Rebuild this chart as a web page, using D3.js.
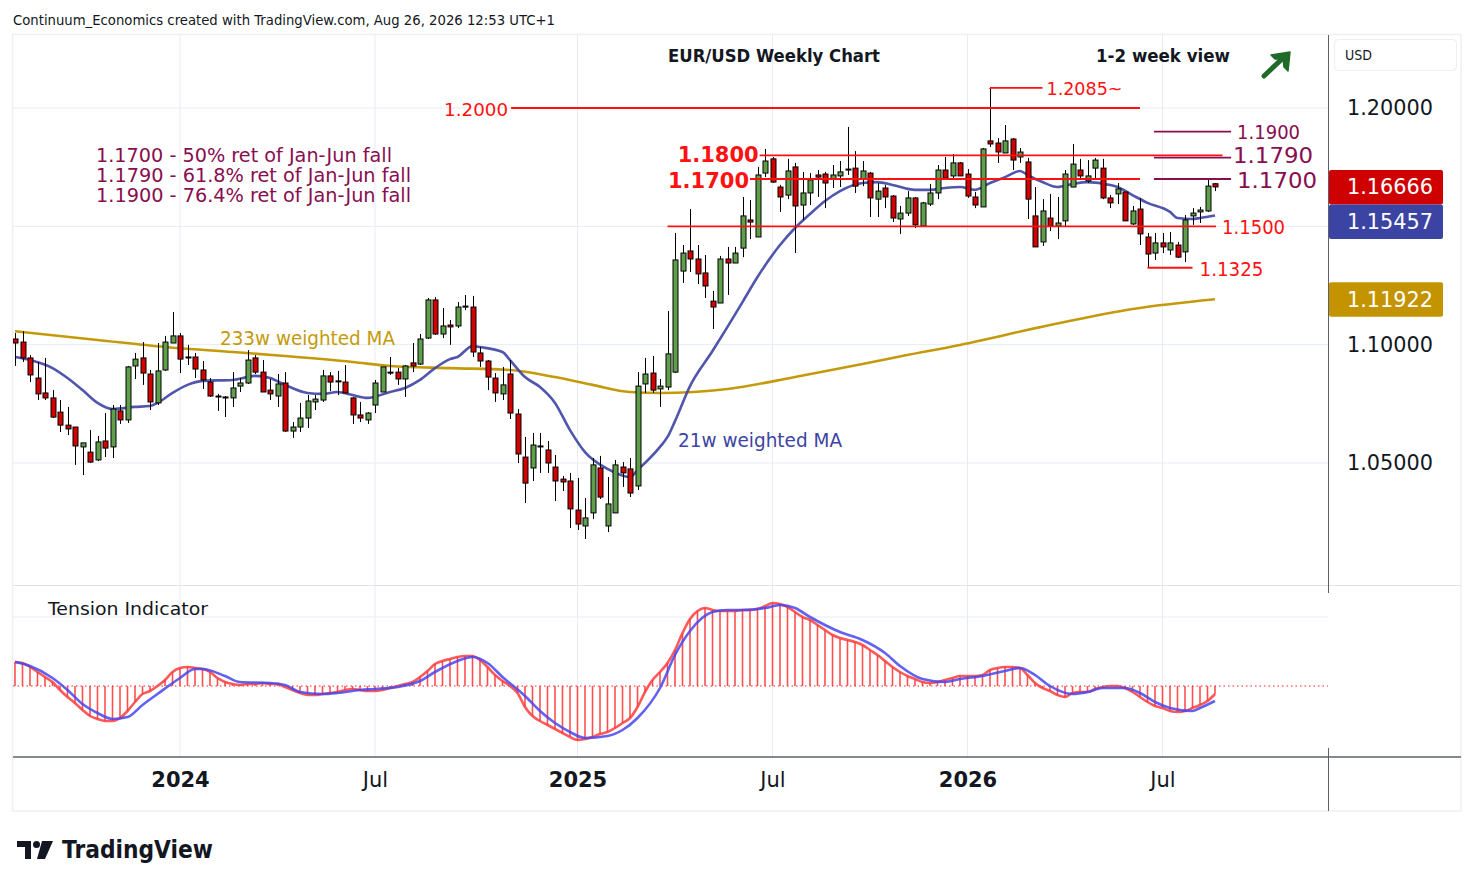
<!DOCTYPE html>
<html><head><meta charset="utf-8">
<script src="https://cdn.jsdelivr.net/npm/d3@7"></script>
<style>
body{margin:0;background:#fff}
svg{display:block}
text{font-family:"DejaVu Sans",Verdana,sans-serif}
</style>
</head><body>
<svg id="chart" width="1474" height="887"></svg>
<script>
// ---------------- DATA ----------------
const firstWeek = "2023-07-31"; // Monday of first weekly bar
const openP = [1.1024,1.1011,1.0944,1.0859,1.0796,1.0775,1.0715,1.0660,1.0652,1.0568,
1.0546,1.0513,1.0593,1.0568,1.0720,1.0682,1.0910,1.0944,1.0876,1.0754,
1.0893,1.1007,1.1037,1.0948,1.0948,1.0893,1.0842,1.0783,1.0779,1.0775,
1.0825,1.0838,1.0944,1.0884,1.0808,1.0783,1.0838,1.0635,1.0652,1.0690,
1.0758,1.0766,1.0868,1.0847,1.0842,1.0775,1.0703,1.0682,1.0745,1.0800,
1.0884,1.0884,1.0855,1.0923,1.0918,1.1028,1.1189,1.1045,1.1083,1.1079,
1.1163,1.1159,1.0965,1.0931,1.0859,1.0792,1.0876,1.0707,1.0525,1.0479,
1.0572,1.0555,1.0483,1.0432,1.0424,1.0301,1.0234,1.0289,1.0479,1.0234,
1.0289,1.0483,1.0475,1.0403,1.0834,1.0880,1.0813,1.0821,1.0884,1.1311,
1.1396,1.1362,1.1303,1.1184,1.1176,1.1362,1.1345,1.1408,1.1527,1.1455,
1.1725,1.1785,1.1666,1.1632,1.1751,1.1590,1.1641,1.1717,1.1721,1.1700,
1.1713,1.1742,1.1746,1.1700,1.1725,1.1615,1.1662,1.1628,1.1531,1.1556,
1.1620,1.1501,1.1594,1.1641,1.1738,1.1713,1.1768,1.1721,1.1624,1.1582,
1.1861,1.1852,1.1810,1.1869,1.1793,1.1772,1.1544,1.1434,1.1535,1.1501,
1.1523,1.1666,1.1738,1.1692,1.1746,1.1746,1.1620,1.1637,1.1645,1.1510,
1.1573,1.1455,1.1387,1.1430,1.1400,1.1421,1.1392,1.1544,1.1561,1.1565,1.1680];
const highP = [1.1049,1.1057,1.0956,1.0927,1.0944,1.0808,1.0766,1.0737,1.0652,1.0585,
1.0639,1.0614,1.0711,1.0745,1.0745,1.0910,1.0965,1.1011,1.0893,1.1007,
1.1037,1.1138,1.1049,1.0999,1.0965,1.0931,1.0859,1.0792,1.0783,1.0884,
1.0859,1.0977,1.0956,1.0935,1.0855,1.0876,1.0884,1.0673,1.0754,1.0787,
1.0787,1.0893,1.0884,1.0889,1.0914,1.0779,1.0758,1.0715,1.0851,1.0906,
1.0948,1.0901,1.0914,1.1007,1.1045,1.1197,1.1201,1.1155,1.1104,1.1180,
1.1210,1.1206,1.0990,1.0935,1.0880,1.0906,1.0935,1.0728,1.0610,1.0627,
1.0627,1.0593,1.0534,1.0445,1.0458,1.0437,1.0352,1.0521,1.0530,1.0441,
1.0513,1.0504,1.0521,1.0884,1.0944,1.0952,1.0855,1.1142,1.1472,1.1421,
1.1573,1.1421,1.1379,1.1227,1.1375,1.1413,1.1413,1.1624,1.1611,1.1751,
1.1827,1.1793,1.1675,1.1785,1.1768,1.1730,1.1725,1.1738,1.1730,1.1759,
1.1776,1.1920,1.1818,1.1776,1.1730,1.1683,1.1675,1.1632,1.1586,1.1649,
1.1624,1.1603,1.1679,1.1759,1.1793,1.1806,1.1772,1.1742,1.1645,1.1831,
1.2085,1.1873,1.1928,1.1873,1.1831,1.1789,1.1666,1.1615,1.1637,1.1624,
1.1738,1.1848,1.1785,1.1780,1.1789,1.1785,1.1632,1.1683,1.1645,1.1586,
1.1620,1.1472,1.1472,1.1472,1.1476,1.1434,1.1548,1.1577,1.1582,1.1704,1.1683];
const lowP = [1.0910,1.0927,1.0842,1.0766,1.0766,1.0690,1.0631,1.0618,1.0492,1.0449,
1.0500,1.0508,1.0525,1.0521,1.0665,1.0669,1.0855,1.0830,1.0724,1.0745,
1.0889,1.1007,1.0880,1.0914,1.0859,1.0813,1.0779,1.0720,1.0694,1.0737,
1.0800,1.0834,1.0876,1.0800,1.0766,1.0737,1.0631,1.0606,1.0631,1.0648,
1.0724,1.0758,1.0804,1.0787,1.0796,1.0665,1.0673,1.0665,1.0711,1.0800,
1.0872,1.0830,1.0779,1.0884,1.0914,1.1024,1.1041,1.1028,1.0999,1.1070,
1.1146,1.0948,1.0906,1.0808,1.0758,1.0766,1.0686,1.0500,1.0331,1.0424,
1.0458,1.0458,1.0339,1.0382,1.0225,1.0217,1.0179,1.0263,1.0348,1.0208,
1.0289,1.0399,1.0356,1.0386,1.0796,1.0796,1.0737,1.0808,1.0880,1.1261,
1.1307,1.1256,1.1197,1.1066,1.1176,1.1210,1.1345,1.1370,1.1446,1.1455,
1.1708,1.1683,1.1561,1.1615,1.1387,1.1527,1.1590,1.1624,1.1577,1.1662,
1.1666,1.1717,1.1641,1.1670,1.1539,1.1539,1.1577,1.1518,1.1468,1.1544,
1.1493,1.1501,1.1586,1.1615,1.1696,1.1704,1.1713,1.1620,1.1577,1.1582,
1.1835,1.1768,1.1810,1.1738,1.1768,1.1531,1.1413,1.1417,1.1480,1.1446,
1.1501,1.1666,1.1704,1.1683,1.1696,1.1615,1.1577,1.1594,1.1523,1.1506,
1.1421,1.1325,1.1358,1.1387,1.1379,1.1366,1.1349,1.1506,1.1514,1.1561,1.1649];
const closeP = [1.1007,1.0944,1.0872,1.0792,1.0775,1.0694,1.0660,1.0644,1.0572,1.0585,
1.0504,1.0589,1.0563,1.0728,1.0682,1.0906,1.0939,1.0880,1.0758,1.0889,
1.1011,1.1037,1.0939,1.0944,1.0897,1.0851,1.0783,1.0781,1.0777,1.0817,
1.0838,1.0935,1.0884,1.0800,1.0792,1.0834,1.0635,1.0652,1.0690,1.0762,
1.0770,1.0868,1.0842,1.0845,1.0796,1.0703,1.0690,1.0711,1.0838,1.0906,
1.0882,1.0855,1.0910,1.0910,1.1024,1.1189,1.1045,1.1079,1.1075,1.1159,
1.1161,1.0969,1.0931,1.0863,1.0796,1.0830,1.0711,1.0538,1.0415,1.0576,
1.0568,1.0500,1.0424,1.0420,1.0306,1.0242,1.0268,1.0492,1.0356,1.0327,
1.0492,1.0458,1.0373,1.0825,1.0876,1.0808,1.0825,1.0961,1.1358,1.1387,
1.1362,1.1299,1.1248,1.1159,1.1362,1.1345,1.1387,1.1544,1.1518,1.1717,
1.1776,1.1687,1.1624,1.1734,1.1586,1.1641,1.1696,1.1708,1.1683,1.1717,
1.1730,1.1740,1.1670,1.1734,1.1620,1.1649,1.1624,1.1535,1.1556,1.1620,
1.1506,1.1599,1.1641,1.1738,1.1704,1.1768,1.1713,1.1628,1.1590,1.1827,
1.1848,1.1814,1.1861,1.1780,1.1814,1.1615,1.1413,1.1565,1.1501,1.1514,
1.1721,1.1763,1.1713,1.1713,1.1780,1.1620,1.1599,1.1658,1.1523,1.1565,
1.1468,1.1383,1.1430,1.1413,1.1430,1.1370,1.1527,1.1556,1.1569,1.1670,1.16666];

// 21-week weighted MA (week index, value)
const ma21Week = [0,2,5,7,9,11,13,16,18,19,21,23,25,29,32,34,36,39,41,43,45,47,50,52,54,56,58,59,61,62,65,66,68,70,72,74,76,79,82,83,86,87,88,90,93,95,97,99,102,104,106,108,110,113,115,117,120,122,124,126,128,130,132,134,135,137,139,141,143,146,147,149,151,154,155,157,158,160];
const ma21Val = [1.0948,1.0935,1.0901,1.0859,1.0808,1.0754,1.0728,1.0737,1.0741,1.0754,1.0796,1.0830,1.0847,1.0851,1.0868,1.0859,1.0830,1.0796,1.0792,1.0800,1.0787,1.0775,1.0800,1.0817,1.0851,1.0901,1.0939,1.0948,1.0994,1.0990,1.0969,1.0935,1.0863,1.0821,1.0754,1.0639,1.0546,1.0475,1.0441,1.0470,1.0568,1.0610,1.0677,1.0825,1.0973,1.1075,1.1180,1.1286,1.1421,1.1493,1.1552,1.1607,1.1649,1.1683,1.1687,1.1675,1.1654,1.1654,1.1662,1.1666,1.1654,1.1683,1.1708,1.1734,1.1717,1.1687,1.1666,1.1679,1.1687,1.1675,1.1666,1.1632,1.1599,1.1561,1.1535,1.1531,1.1535,1.15457];
// 233-week weighted MA
const ma233Week = [0,11,20,29,36,45,50,58,66,72,77,82,86,95,104,113,117,126,138,149,160];
const ma233Val = [1.1057,1.1020,1.0990,1.0969,1.0952,1.0927,1.0910,1.0901,1.0893,1.0863,1.0830,1.0800,1.0796,1.0813,1.0863,1.0918,1.0944,1.0999,1.1083,1.1151,1.11922];

// Tension indicator (one value per weekly bar) and its signal line
const tension = [2.4,2.3,1.9,1.4,0.9,0.4,-0.4,-1.1,-1.7,-2.4,
-3.0,-3.3,-3.5,-3.5,-3.2,-2.5,-1.6,-0.8,-0.5,0.0,
0.6,1.4,1.8,1.9,1.8,1.7,1.4,0.8,0.4,0.2,
0.1,0.2,0.2,0.3,0.2,0.2,-0.1,-0.4,-0.7,-0.9,
-0.9,-0.8,-0.7,-0.6,-0.4,-0.3,-0.4,-0.5,-0.5,-0.4,
-0.2,0.0,0.2,0.4,0.9,1.5,2.2,2.5,2.7,2.9,
3.0,3.0,2.6,1.9,1.1,0.5,0.0,-0.7,-2.1,-3.0,
-3.5,-3.9,-4.3,-4.7,-5.1,-5.4,-5.3,-5.1,-4.8,-4.6,
-4.2,-3.7,-3.2,-2.1,-0.6,0.6,1.4,2.3,3.6,5.3,
6.7,7.5,7.8,7.6,7.5,7.5,7.5,7.6,7.6,7.7,
8.0,8.3,8.2,7.9,7.4,6.9,6.6,6.1,5.6,5.1,
4.8,4.6,4.4,4.1,3.6,3.1,2.5,1.9,1.4,1.0,
0.7,0.4,0.3,0.4,0.6,0.8,1.0,1.0,1.0,1.1,
1.6,1.8,1.9,1.9,1.8,1.1,0.3,-0.2,-0.5,-0.9,
-1.1,-0.7,-0.6,-0.6,-0.3,-0.1,0.0,0.0,-0.2,-0.6,
-1.1,-1.6,-2.0,-2.2,-2.5,-2.6,-2.5,-2.2,-1.9,-1.5,-0.8];
const signalWeek = [0,2,5,7,9,11,13,15,17,19,22,24,25,28,30,34,36,38,41,43,46,48,51,54,56,59,61,63,65,68,70,72,74,76,79,81,83,86,88,90,93,95,97,100,102,104,106,110,113,116,118,121,124,126,129,132,134,136,138,141,143,145,148,150,152,154,157,158,160];
const signalVal = [2.4,2.0,0.8,-0.4,-1.8,-2.7,-3.3,-3.1,-1.9,-0.8,0.8,1.7,1.7,1.0,0.4,0.3,0.1,-0.6,-0.8,-0.7,-0.4,-0.3,-0.1,0.5,1.4,2.5,2.9,2.3,0.9,-1.0,-2.5,-3.7,-4.6,-5.2,-5.0,-4.4,-3.2,-0.2,3.1,5.5,7.4,7.6,7.6,7.8,8.1,7.8,6.9,5.4,4.6,3.3,2.0,0.7,0.4,0.7,1.0,1.5,1.8,1.1,0.0,-0.8,-0.6,-0.2,-0.2,-0.7,-1.6,-2.2,-2.5,-2.2,-1.5];

// Axis ticks
const priceTicks = [1.05, 1.10, 1.20];
const timeTickDates = ["2024-01-01","2024-07-01","2025-01-06","2025-07-07","2026-01-05","2026-07-06"];
const timeTickLabels = ["2024","Jul","2025","Jul","2026","Jul"];

// Annotated levels
const redLevels = [1.2000, 1.2085, 1.1800, 1.1700, 1.1500, 1.1325];
const fibLevels = [1.1900, 1.1790, 1.1700];
const fibNotes = ["1.1700 - 50% ret of Jan-Jun fall","1.1790 - 61.8% ret of Jan-Jun fall","1.1900 - 76.4% ret of Jan-Jun fall"];

// ---------------- DRAW ----------------
const svg = d3.select("#chart");
const W = 1474, H = 887;
svg.append("rect").attr("width", W).attr("height", H).attr("fill", "#fff");

const t0 = d3.utcParse("%Y-%m-%d")(firstWeek);
const dates = openP.map((d, i) => d3.utcDay.offset(t0, 7 * i));
const x = d3.scaleUtc().domain([dates[0], dates[dates.length - 1]]).range([15, 1215]);
const xi = i => x(d3.utcDay.offset(t0, 7 * i));
const y = d3.scaleLinear().domain([1.05, 1.20]).range([463, 108]);
const yT = d3.scaleLinear().domain([0, 5]).range([686, 636]);

const paneL = 13, paneR = 1328, mainT = 35, mainB = 585, tenB = 757, frameR = 1461, frameB = 811;
const tickDates = timeTickDates.map(d3.utcParse("%Y-%m-%d"));

// frame
svg.append("rect").attr("x", 12.5).attr("y", 34.5).attr("width", frameR - 12.5).attr("height", frameB - 34.5)
  .attr("fill", "none").attr("stroke", "#eef0f4").attr("stroke-width", 1.5);

// grid
const grid = svg.append("g").attr("stroke", "#e7ecf3").attr("stroke-width", 1);
tickDates.forEach(d => {
  grid.append("line").attr("x1", x(d)).attr("x2", x(d)).attr("y1", mainT).attr("y2", tenB);
});
[1.05, 1.10, 1.15, 1.20].forEach(v => {
  grid.append("line").attr("x1", paneL).attr("x2", paneR).attr("y1", y(v)).attr("y2", y(v));
});
grid.append("line").attr("x1", paneL).attr("x2", paneR).attr("y1", 617).attr("y2", 617);

// pane separators
svg.append("line").attr("x1", paneL).attr("x2", frameR).attr("y1", mainB + 0.5).attr("y2", mainB + 0.5).attr("stroke", "#e0e3eb");
svg.append("line").attr("x1", paneL).attr("x2", frameR).attr("y1", tenB).attr("y2", tenB).attr("stroke", "#5d606b").attr("stroke-width", 1.5);
svg.append("line").attr("x1", paneR + 0.5).attr("x2", paneR + 0.5).attr("y1", mainT).attr("y2", 593).attr("stroke", "#5d606b");
svg.append("line").attr("x1", paneR + 0.5).attr("x2", paneR + 0.5).attr("y1", 748).attr("y2", frameB).attr("stroke", "#5d606b");

// clip
svg.append("clipPath").attr("id", "mainClip").append("rect")
  .attr("x", paneL).attr("y", mainT).attr("width", paneR - paneL).attr("height", mainB - mainT);
const main = svg.append("g").attr("clip-path", "url(#mainClip)");

// moving averages
const line = d3.line().x(d => xi(d[0])).y(d => y(d[1])).curve(d3.curveMonotoneX);
main.append("path").datum(ma233Week.map((w, i) => [w, ma233Val[i]]))
  .attr("d", line).attr("fill", "none").attr("stroke", "#c49a0c").attr("stroke-width", 2.6);
main.append("path").datum(ma21Week.map((w, i) => [w, ma21Val[i]]))
  .attr("d", line).attr("fill", "none").attr("stroke", "#3d44a3").attr("stroke-width", 2.6).attr("stroke-opacity", 0.9);

// annotation helpers
function hline(g, v, i0, i1, color, w) {
  g.append("line").attr("x1", xi(i0)).attr("x2", xi(i1)).attr("y1", y(v)).attr("y2", y(v))
    .attr("stroke", color).attr("stroke-width", w);
}
function label(str, px, py, opt) {
  const t = svg.append("text").attr("x", px).attr("y", py).attr("dominant-baseline", "central")
    .attr("fill", opt.fill || "#131722").attr("font-size", opt.size || 18)
    .attr("font-weight", opt.weight || "normal").attr("text-anchor", opt.anchor || "start").text(str);
  if (opt.len) t.attr("textLength", opt.len).attr("lengthAdjust", "spacingAndGlyphs");
  return t;
}
const RED = "#ff1111", PURP = "#880e4f";
const ann = svg.append("g");
// red levels
hline(ann, redLevels[0], 66.2, 150, RED, 1.8);           // 1.2000
hline(ann, redLevels[1], 130, 137.1, RED, 1.8);          // 1.2085~
ann.append("line").attr("x1", xi(130)).attr("x2", xi(130)).attr("y1", y(redLevels[1])).attr("y2", y(highP[130]) + 1)
  .attr("stroke", RED).attr("stroke-width", 1.5);
hline(ann, redLevels[2], 99.4, 161.1, RED, 1.8);         // 1.1800
hline(ann, redLevels[3], 98.1, 150, RED, 1.8);           // 1.1700
hline(ann, redLevels[4], 87, 160.2, RED, 1.8);           // 1.1500
hline(ann, redLevels[5], 151, 157, RED, 1.8);            // 1.1325
// fib levels
fibLevels.forEach(v => hline(ann, v, 151.9, 162.2, PURP, 1.8));

// candles
const cg = main.append("g");
const bw = 5;
dates.forEach((d, i) => {
  const cx = Math.round(x(d)) + 0.5;
  const up = closeP[i] >= openP[i];
  cg.append("line").attr("x1", cx).attr("x2", cx).attr("y1", y(highP[i])).attr("y2", y(lowP[i]))
    .attr("stroke", "#000").attr("stroke-width", 1);
  const top = y(Math.max(openP[i], closeP[i])), bot = y(Math.min(openP[i], closeP[i]));
  cg.append("rect").attr("x", cx - bw / 2).attr("y", top).attr("width", bw).attr("height", Math.max(1, bot - top))
    .attr("fill", up ? "#5f9f4b" : "#d20000").attr("stroke", "#000").attr("stroke-width", 1);
});

// tension pane
const tg = svg.append("g");
tg.append("line").attr("x1", paneL).attr("x2", paneR).attr("y1", yT(0)).attr("y2", yT(0))
  .attr("stroke", "#ff2020").attr("stroke-width", 1.2).attr("stroke-dasharray", "1.5,3");
tension.forEach((v, i) => {
  tg.append("line").attr("x1", xi(i)).attr("x2", xi(i)).attr("y1", yT(0)).attr("y2", yT(v))
    .attr("stroke", "#ff3030").attr("stroke-opacity", 0.85).attr("stroke-width", 1.6);
});
const tl = d3.line().x(d => xi(d[0])).y(d => yT(d[1]));
tg.append("path").datum(tension.map((v, i) => [i, v])).attr("d", tl.curve(d3.curveMonotoneX))
  .attr("fill", "none").attr("stroke", "#ff3c3c").attr("stroke-opacity", 0.85).attr("stroke-width", 2.6);
tg.append("path").datum(signalWeek.map((w, i) => [w, signalVal[i]])).attr("d", tl.curve(d3.curveMonotoneX))
  .attr("fill", "none").attr("stroke", "#4646f0").attr("stroke-opacity", 0.85).attr("stroke-width", 2.6);

// axes
const xAxis = d3.axisBottom(x).tickValues(tickDates).tickSize(0).tickPadding(15)
  .tickFormat((d, i) => timeTickLabels[i]);
const gx = svg.append("g").attr("transform", `translate(0,${tenB})`).call(xAxis);
gx.select(".domain").remove();
gx.selectAll("text").attr("font-family", "'DejaVu Sans', sans-serif").attr("font-size", 21)
  .attr("fill", "#131722").attr("font-weight", (d, i) => timeTickLabels[i] === "Jul" ? "normal" : "bold");

const yAxis = d3.axisRight(y).tickValues(priceTicks).tickSize(0).tickPadding(19).tickFormat(d3.format(".5f"));
const gy = svg.append("g").attr("transform", `translate(${paneR},0)`).call(yAxis);
gy.select(".domain").remove();
gy.selectAll("text").attr("font-family", "'DejaVu Sans', sans-serif").attr("font-size", 21).attr("fill", "#131722")
  .attr("textLength", 86).attr("lengthAdjust", "spacingAndGlyphs");

// last value boxes
const boxes = [
  {v: closeP[closeP.length - 1], c: "#cf0000"},
  {v: ma21Val[ma21Val.length - 1], c: "#3c44a3"},
  {v: ma233Val[ma233Val.length - 1], c: "#c49300"}
];
let prevBottom = -1e9;
boxes.forEach(b => {
  let top = Math.max(y(b.v) - 17, prevBottom);
  prevBottom = top + 34.5;
  svg.append("rect").attr("x", paneR + 1).attr("y", top).attr("width", 114).attr("height", 34.5)
    .attr("rx", 2).attr("fill", b.c);
  label(d3.format(".5f")(b.v), 1347, top + 17.5, {fill: "#fff", size: 21, len: 86});
});

// USD box
svg.append("rect").attr("x", 1334.5).attr("y", 39.5).attr("width", 122).attr("height", 31).attr("rx", 4)
  .attr("fill", "#fff").attr("stroke", "#eceef2");
label("USD", 1345, 55, {size: 14, len: 27});

// texts
label("Continuum_Economics created with TradingView.com, Aug 26, 2026 12:53 UTC+1", 13, 20, {size: 14, len: 542, fill: "#131722"});
label("EUR/USD Weekly Chart", 668, 55, {size: 18, weight: "bold", len: 212});
label("1-2 week view", 1096, 55, {size: 18, weight: "bold", len: 134});
label("1.2000", xi(66.2) - 3, y(redLevels[0]) + 1, {fill: RED, size: 18, anchor: "end", len: 64});
label("1.2085~", xi(137.1) + 4, y(redLevels[1]) + 1, {fill: RED, size: 18, len: 76});
label("1.1800", xi(99.4) - 1, y(redLevels[2]), {fill: RED, size: 21, weight: "bold", anchor: "end", len: 81});
label("1.1700", xi(98.1) - 1, y(redLevels[3]) + 2, {fill: RED, size: 21, weight: "bold", anchor: "end", len: 81});
label("1.1500", xi(160.2) + 6, y(redLevels[4]) + 1, {fill: RED, size: 19, len: 63});
label("1.1325", xi(157) + 7, y(redLevels[5]) + 1, {fill: RED, size: 19, len: 64});
label("1.1900", xi(162.2) + 6, y(fibLevels[0]), {fill: PURP, size: 19, len: 63});
label("1.1790", xi(162.2) + 2, y(fibLevels[1]) - 2, {fill: PURP, size: 21, len: 80});
label("1.1700", xi(162.2) + 6, y(fibLevels[2]) + 1.5, {fill: PURP, size: 21, len: 80});
fibNotes.forEach((s, i) => label(s, 96, 155 + 20 * i, {fill: PURP, size: 19, len: i === 0 ? 296 : 315}));
label("233w weighted MA", 220, 338, {fill: "#c49a0c", size: 19, len: 175});
label("21w weighted MA", 678, 440, {fill: "#3d44a3", size: 19, len: 164});
label("Tension Indicator", 48, 609, {size: 17, len: 160});

// green arrow
const ag = svg.append("g").attr("fill", "#1f6b2a").attr("stroke", "#1f6b2a");
ag.append("line").attr("x1", 1264).attr("y1", 76).attr("x2", 1283).attr("y2", 58).attr("stroke-width", 5).attr("stroke-linecap", "round");
ag.append("path").attr("d", "M1290,52 L1271,55 L1275,59 L1283,59 L1284,67 L1288,71 Z").attr("stroke-width", 1.5).attr("stroke-linejoin", "round");

// TradingView logo
const lg = svg.append("g").attr("fill", "#131722");
lg.append("path").attr("d", "M17,841 H31 V859 H25 V847 H17 Z");
lg.append("circle").attr("cx", 36.5).attr("cy", 844.5).attr("r", 3.5);
lg.append("path").attr("d", "M42,841 H53 L45,859 H37 Z");
label("TradingView", 62, 850, {size: 24, weight: "bold", len: 151});
</script>
</body></html>
